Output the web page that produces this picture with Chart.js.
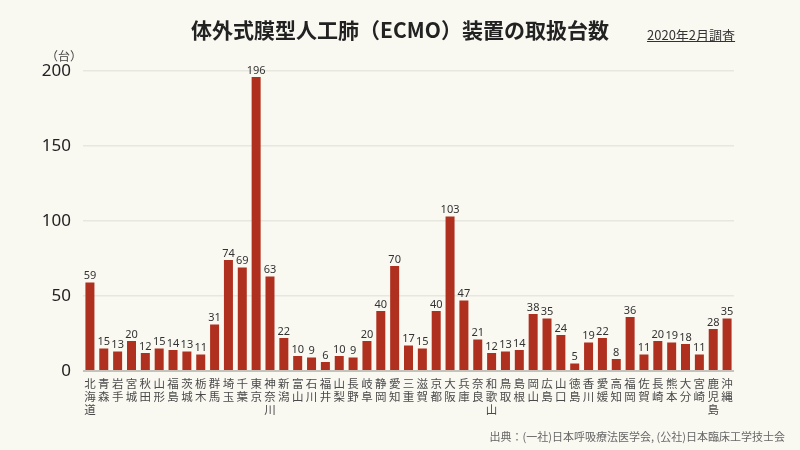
<!DOCTYPE html>
<html>
<head>
<meta charset="utf-8">
<script src="https://cdn.jsdelivr.net/npm/chart.js@4/dist/chart.umd.min.js"></script>
<style>
html,body{margin:0;padding:0;background:#f9f8f1;}
#wrap{position:relative;width:800px;height:450px;background:#f9f8f1;font-family:"Noto Sans CJK JP","Noto Sans",sans-serif;}
#c{position:absolute;left:0;top:0;}
.t{position:absolute;white-space:nowrap;}
#title{left:0;width:800px;top:14px;text-align:center;font-size:21px;font-weight:bold;color:#222;}
#date{left:647px;top:25px;font-size:13px;color:#333;text-decoration:underline;}
#unit{left:46px;top:47px;font-size:12px;color:#444;}
#src{right:15px;top:428px;font-size:11px;color:#666;}
</style>
</head>
<body>
<div id="wrap">
<canvas id="c" width="800" height="450"></canvas>
<div class="t" id="title">体外式膜型人工肺（ECMO）装置の取扱台数</div>
<div class="t" id="date">2020年2月調査</div>
<div class="t" id="unit">（台）</div>
<div class="t" id="src">出典：(一社)日本呼吸療法医学会, (公社)日本臨床工学技士会</div>
</div>
<script>
const prefectures = ["北海道","青森","岩手","宮城","秋田","山形","福島","茨城","栃木","群馬","埼玉","千葉","東京","神奈川","新潟","富山","石川","福井","山梨","長野","岐阜","静岡","愛知","三重","滋賀","京都","大阪","兵庫","奈良","和歌山","鳥取","島根","岡山","広島","山口","徳島","香川","愛媛","高知","福岡","佐賀","長崎","熊本","大分","宮崎","鹿児島","沖縄"];
const ecmoCounts = [59,15,13,20,12,15,14,13,11,31,74,69,196,63,22,10,9,6,10,9,20,40,70,17,15,40,103,47,21,12,13,14,38,35,24,5,19,22,8,36,11,20,19,18,11,28,35];
const yTicks = [0,50,100,150,200];

const valueLabels = {
  id:'valueLabels',
  afterDatasetsDraw(chart){
    const ctx = chart.ctx;
    const meta = chart.getDatasetMeta(0);
    ctx.save();
    ctx.font = '11px "Noto Sans","Noto Sans CJK JP",sans-serif';
    ctx.fillStyle = '#333';
    ctx.textAlign = 'center';
    ctx.textBaseline = 'bottom';
    meta.data.forEach((bar,i)=>{
      ctx.fillText(String(chart.data.datasets[0].data[i]), bar.x, bar.y - 1);
    });
    ctx.restore();
  }
};

new Chart(document.getElementById('c'), {
  type:'bar',
  data:{
    labels: prefectures.map(p=>p.split('')),
    datasets:[{
      data: ecmoCounts,
      backgroundColor:'#b0301f',
      borderWidth:0,
      barPercentage:0.65,
      categoryPercentage:1.0
    }]
  },
  options:{
    responsive:false,
    animation:false,
    events:[],
    layout:{padding:{top:71,right:66,left:0,bottom:0}},
    plugins:{legend:{display:false},tooltip:{enabled:false},title:{display:false}},
    scales:{
      x:{
        grid:{display:false,drawTicks:false},
        border:{display:false},
        ticks:{
          autoSkip:false,maxRotation:0,minRotation:0,padding:6,
          color:'#4a4a4a',
          font:{family:'"Noto Sans CJK JP",sans-serif',size:11.5,lineHeight:1.15}
        },
        afterFit(s){ s.height = 79; }
      },
      y:{
        min:0,max:200,
        afterBuildTicks(s){ s.ticks = yTicks.map(v=>({value:v})); },
        grid:{
          drawTicks:false,
          color:(c)=> c.tick && c.tick.value===0 ? '#c4c3bb' : '#e8e7df',
          lineWidth:(c)=> c.tick && c.tick.value===0 ? 2 : 1.5
        },
        border:{display:false},
        ticks:{
          padding:12,color:'#222',
          font:{family:'"Noto Sans","Noto Sans CJK JP",sans-serif',size:17}
        },
        afterFit(s){ s.width = 83; }
      }
    }
  },
  plugins:[valueLabels]
});
</script>
</body>
</html>
